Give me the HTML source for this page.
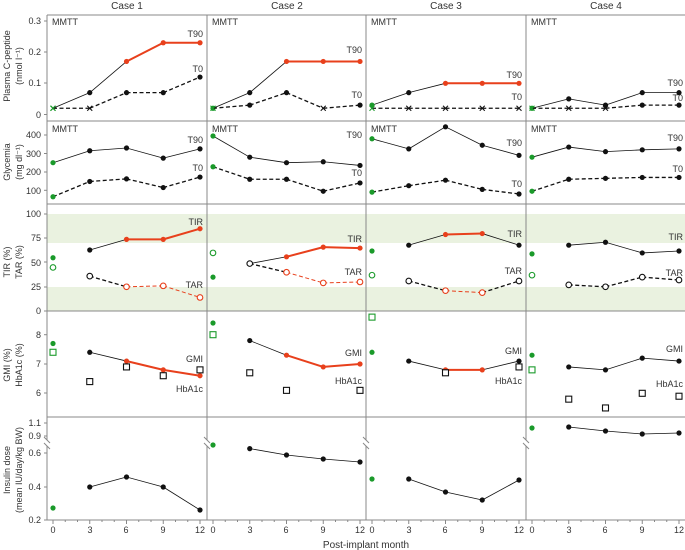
<!DOCTYPE html>
<html><head><meta charset="utf-8"><style>
html,body{margin:0;padding:0;background:#fff}
svg{display:block}
text{font-family:"Liberation Sans",sans-serif;fill:#333}
</style></head><body>
<svg id="s" width="685" height="550" viewBox="0 0 685 550" xmlns="http://www.w3.org/2000/svg">
<g id="bands"></g>
<g id="frame" stroke="#888" stroke-width="1" fill="none"></g>
<g id="data"></g>
<g font-size="10" text-anchor="middle">
<text x="127" y="9">Case 1</text><text x="287" y="9">Case 2</text><text x="446" y="9">Case 3</text><text x="606" y="9">Case 4</text>
<text x="366" y="548">Post-implant month</text>
</g>
<g font-size="9">
<text x="52" y="25">MMTT</text><text x="212" y="25">MMTT</text><text x="371" y="25">MMTT</text><text x="531" y="25">MMTT</text>
<text x="52" y="132">MMTT</text><text x="212" y="132">MMTT</text><text x="371" y="132">MMTT</text><text x="531" y="132">MMTT</text>
</g>
<g font-size="9" text-anchor="end">
<text x="203" y="37">T90</text><text x="203" y="72">T0</text>
<text x="203" y="143">T90</text><text x="203" y="171">T0</text>
<text x="203" y="225">TIR</text><text x="203" y="288">TAR</text>
<text x="203" y="362">GMI</text><text x="203" y="392">HbA1c</text>
<text x="362" y="53">T90</text><text x="362" y="98">T0</text>
<text x="362" y="138">T90</text><text x="362" y="176">T0</text>
<text x="362" y="242">TIR</text><text x="362" y="275">TAR</text>
<text x="362" y="356">GMI</text><text x="362" y="384">HbA1c</text>
<text x="522" y="78">T90</text><text x="522" y="100">T0</text>
<text x="522" y="146">T90</text><text x="522" y="187">T0</text>
<text x="522" y="237">TIR</text><text x="522" y="274">TAR</text>
<text x="522" y="354">GMI</text><text x="522" y="384">HbA1c</text>
<text x="683" y="86">T90</text><text x="683" y="101">T0</text>
<text x="683" y="141">T90</text><text x="683" y="172">T0</text>
<text x="683" y="240">TIR</text><text x="683" y="276">TAR</text>
<text x="683" y="352">GMI</text><text x="683" y="387">HbA1c</text>
</g>
<g font-size="9" text-anchor="end">
<text x="41" y="24">0.3</text><text x="41" y="55">0.2</text><text x="41" y="86">0.1</text><text x="41" y="118">0</text>
<text x="41" y="138">400</text><text x="41" y="157">300</text><text x="41" y="175">200</text><text x="41" y="194">100</text>
<text x="41" y="217">100</text><text x="41" y="241">75</text><text x="41" y="266">50</text><text x="41" y="290">25</text><text x="41" y="314">0</text>
<text x="41" y="338">8</text><text x="41" y="367">7</text><text x="41" y="396">6</text>
<text x="41" y="426">1.1</text><text x="41" y="439">0.9</text><text x="41" y="456">0.6</text><text x="41" y="490">0.4</text><text x="41" y="523">0.2</text>
</g>
<g font-size="9" text-anchor="middle">
<text transform="translate(10,66) rotate(-90)">Plasma C-peptide</text>
<text transform="translate(22,66) rotate(-90)">(nmol l⁻¹)</text>
<text transform="translate(10,162) rotate(-90)">Glycemia</text>
<text transform="translate(22,162) rotate(-90)">(mg dl⁻¹)</text>
<text transform="translate(10,262) rotate(-90)">TIR (%)</text>
<text transform="translate(22,262) rotate(-90)">TAR (%)</text>
<text transform="translate(10,365) rotate(-90)">GMI (%)</text>
<text transform="translate(22,365) rotate(-90)">HbA1c (%)</text>
<text transform="translate(10,470) rotate(-90)">Insulin dose</text>
<text transform="translate(22,470) rotate(-90)">(mean IU/day/kg BW)</text>
</g>
<g id="xt" font-size="9" text-anchor="middle">
<text x="53" y="533">0</text><text x="90" y="533">3</text><text x="126" y="533">6</text><text x="163" y="533">9</text><text x="200" y="533">12</text>
<text x="213" y="533">0</text><text x="250" y="533">3</text><text x="286" y="533">6</text><text x="323" y="533">9</text><text x="360" y="533">12</text>
<text x="372" y="533">0</text><text x="409" y="533">3</text><text x="445" y="533">6</text><text x="482" y="533">9</text><text x="519" y="533">12</text>
<text x="532" y="533">0</text><text x="569" y="533">3</text><text x="605" y="533">6</text><text x="642" y="533">9</text><text x="679" y="533">12</text>
</g>
</svg>
<script>
var NS="http://www.w3.org/2000/svg";
function el(p,t,a){var e=document.createElementNS(NS,t);for(var k in a)e.setAttribute(k,a[k]);p.appendChild(e);return e;}
var B=document.getElementById('bands'),F=document.getElementById('frame'),D=document.getElementById('data');
var RED="#e8401c",GR="#1a9a2a";
el(B,'rect',{x:47,y:214,width:638,height:29,fill:"#eaf2e0"});
el(B,'rect',{x:47,y:287,width:638,height:24,fill:"#eaf2e0"});
// frame
el(F,'line',{x1:47,y1:15,x2:685,y2:15});
[121,204,311,417].forEach(function(y){el(F,'line',{x1:47,y1:y,x2:685,y2:y});});
el(F,'line',{x1:47,y1:520,x2:685,y2:520});
[47,207,366,526].forEach(function(x){el(F,'line',{x1:x,y1:15,x2:x,y2:440});el(F,'line',{x1:x,y1:446,x2:x,y2:520});
 el(F,'line',{x1:x-3,y1:437,x2:x+3,y2:443});el(F,'line',{x1:x-3,y1:443,x2:x+3,y2:449});});
[21,52,83,114.5,135,153.5,172,190.3,214,238,262,287,311,334.7,364,393,423,436,453,487,520].forEach(function(y){el(F,'line',{x1:44,y1:y,x2:47,y2:y});});
var X0=[53,213,372,532];
for(var c=0;c<4;c++)for(var m=0;m<=12;m++){var x=X0[c]+m*12.25;el(F,'line',{x1:x,y1:520,x2:x,y2:m%3==0?524:522});}
function Y(r,v){if(r==0)return 114.5-v*312;if(r==1)return 208.7-v*0.184;if(r==2)return 311-v*0.968;if(r==3)return 364-(v-7)*29.3;return v;}
// series: [col,row,vals,dash,redFrom,redTo,marker,connect0]
var S=[
[0,0,[.02,.07,.17,.23,.23],0,2,4,'c',1,'x'],
[0,0,[.02,.02,.07,.07,.12],1,-1,-1,'c',1,'x',[1]],
[0,1,[250,315,330,275,325],0,-1,-1,'c',1],
[0,1,[65,148,162,115,172],1,-1,-1,'c',1],
[0,2,[55,63,74,74,85],0,2,4,'c',0],
[0,2,[45,36,25,26,14],1,2,4,'o',0],
[0,3,[7.7,7.4,7.1,6.8,6.6],0,2,4,'c',0],
[0,3,[7.4,6.4,6.9,6.6,6.8],-1,-1,-1,'s',0],
[0,4,[508,487,477,487,510],0,-1,-1,'c',0],
[1,0,[.02,.07,.17,.17,.17],0,2,4,'c',1],
[1,0,[.02,.03,.07,.02,.03],1,-1,-1,'c',1,'x',[3]],
[1,1,[395,280,250,255,235],0,-1,-1,'c',1],
[1,1,[228,160,160,95,140],1,-1,-1,'c',1],
[1,2,[35,49,56,66,65],0,2,4,'c',0],
[1,2,[60,49,40,29,30],1,2,4,'o',0],
[1,3,[8.4,7.8,7.3,6.9,7.0],0,2,4,'c',0],
[1,3,[8.0,6.7,6.1,null,6.1],-1,-1,-1,'s',0],
[1,4,[445,448.6,455,459,462],0,-1,-1,'c',0],
[2,0,[.03,.07,.10,.10,.10],0,2,4,'c',1],
[2,0,[.02,.02,.02,.02,.02],1,-1,-1,'c',1,'x',[1,2,3,4]],
[2,1,[380,325,445,345,290],0,-1,-1,'c',1],
[2,1,[90,125,155,105,80],1,-1,-1,'c',1],
[2,2,[62,68,79,80,68],0,2,3,'c',0],
[2,2,[37,31,21,19,31],1,2,3,'o',0],
[2,3,[7.4,7.1,6.8,6.8,7.1],0,2,3,'c',0],
[2,3,[8.6,null,6.7,null,6.9],-1,-1,-1,'s',0],
[2,4,[479,479,492,500,480],0,-1,-1,'c',0],
[3,0,[.02,.05,.03,.07,.07],0,-1,-1,'c',1],
[3,0,[.02,.02,.02,.03,.03],1,-1,-1,'c',1,'x',[1,2]],
[3,1,[280,335,310,320,325],0,-1,-1,'c',1],
[3,1,[95,160,165,170,170],1,-1,-1,'c',1],
[3,2,[59,68,71,60,62],0,-1,-1,'c',0],
[3,2,[37,27,25,35,32],1,-1,-1,'o',0],
[3,3,[7.3,6.9,6.8,7.2,7.1],0,-1,-1,'c',0],
[3,3,[6.8,5.8,5.5,6.0,5.9],-1,-1,-1,'s',0],
[3,4,[428,427,431,434,433],0,-1,-1,'c',0]
];
S.forEach(function(s){
 var c=s[0],r=s[1],v=s[2],dash=s[3],rf=s[4],rt=s[5],mk=s[6],c0=s[7],mk0=s[8],xs=s[9]||[];
 var P=v.map(function(val,i){return val==null?null:[X0[c]+i*36.75,Y(r,val)];});
 if(dash>=0){for(var i=(c0?0:1);i<4;i++){if(!P[i]||!P[i+1])continue;
  var red=rf>=0&&i>=rf&&i+1<=rt;
  var a={x1:P[i][0],y1:P[i][1],x2:P[i+1][0],y2:P[i+1][1],stroke:red?RED:"#111","stroke-width":red?(dash?1:2):(dash?1.3:0.8)};
  if(dash)a["stroke-dasharray"]="4,2.5";el(D,'line',a);}}
 P.forEach(function(p,i){if(!p)return;
  var col=i==0?GR:((rf>=0&&i>=rf&&i<=rt)?RED:"#111");
  var t=(i==0&&mk0)?mk0:(xs.indexOf(i)>=0?'x':mk);
  if(t=='c')el(D,'circle',{cx:p[0],cy:p[1],r:2.6,fill:col});
  else if(t=='o')el(D,'circle',{cx:p[0],cy:p[1],r:2.8,fill:"#fff",stroke:col,"stroke-width":1.1});
  else if(t=='s')el(D,'rect',{x:p[0]-3,y:p[1]-3,width:6,height:6,fill:"#fff",stroke:col,"stroke-width":1.1});
  else{el(D,'line',{x1:p[0]-2.5,y1:p[1]-2.5,x2:p[0]+2.5,y2:p[1]+2.5,stroke:col,"stroke-width":1.1});el(D,'line',{x1:p[0]-2.5,y1:p[1]+2.5,x2:p[0]+2.5,y2:p[1]-2.5,stroke:col,"stroke-width":1.1});}
 });
});
</script>
</body></html>
